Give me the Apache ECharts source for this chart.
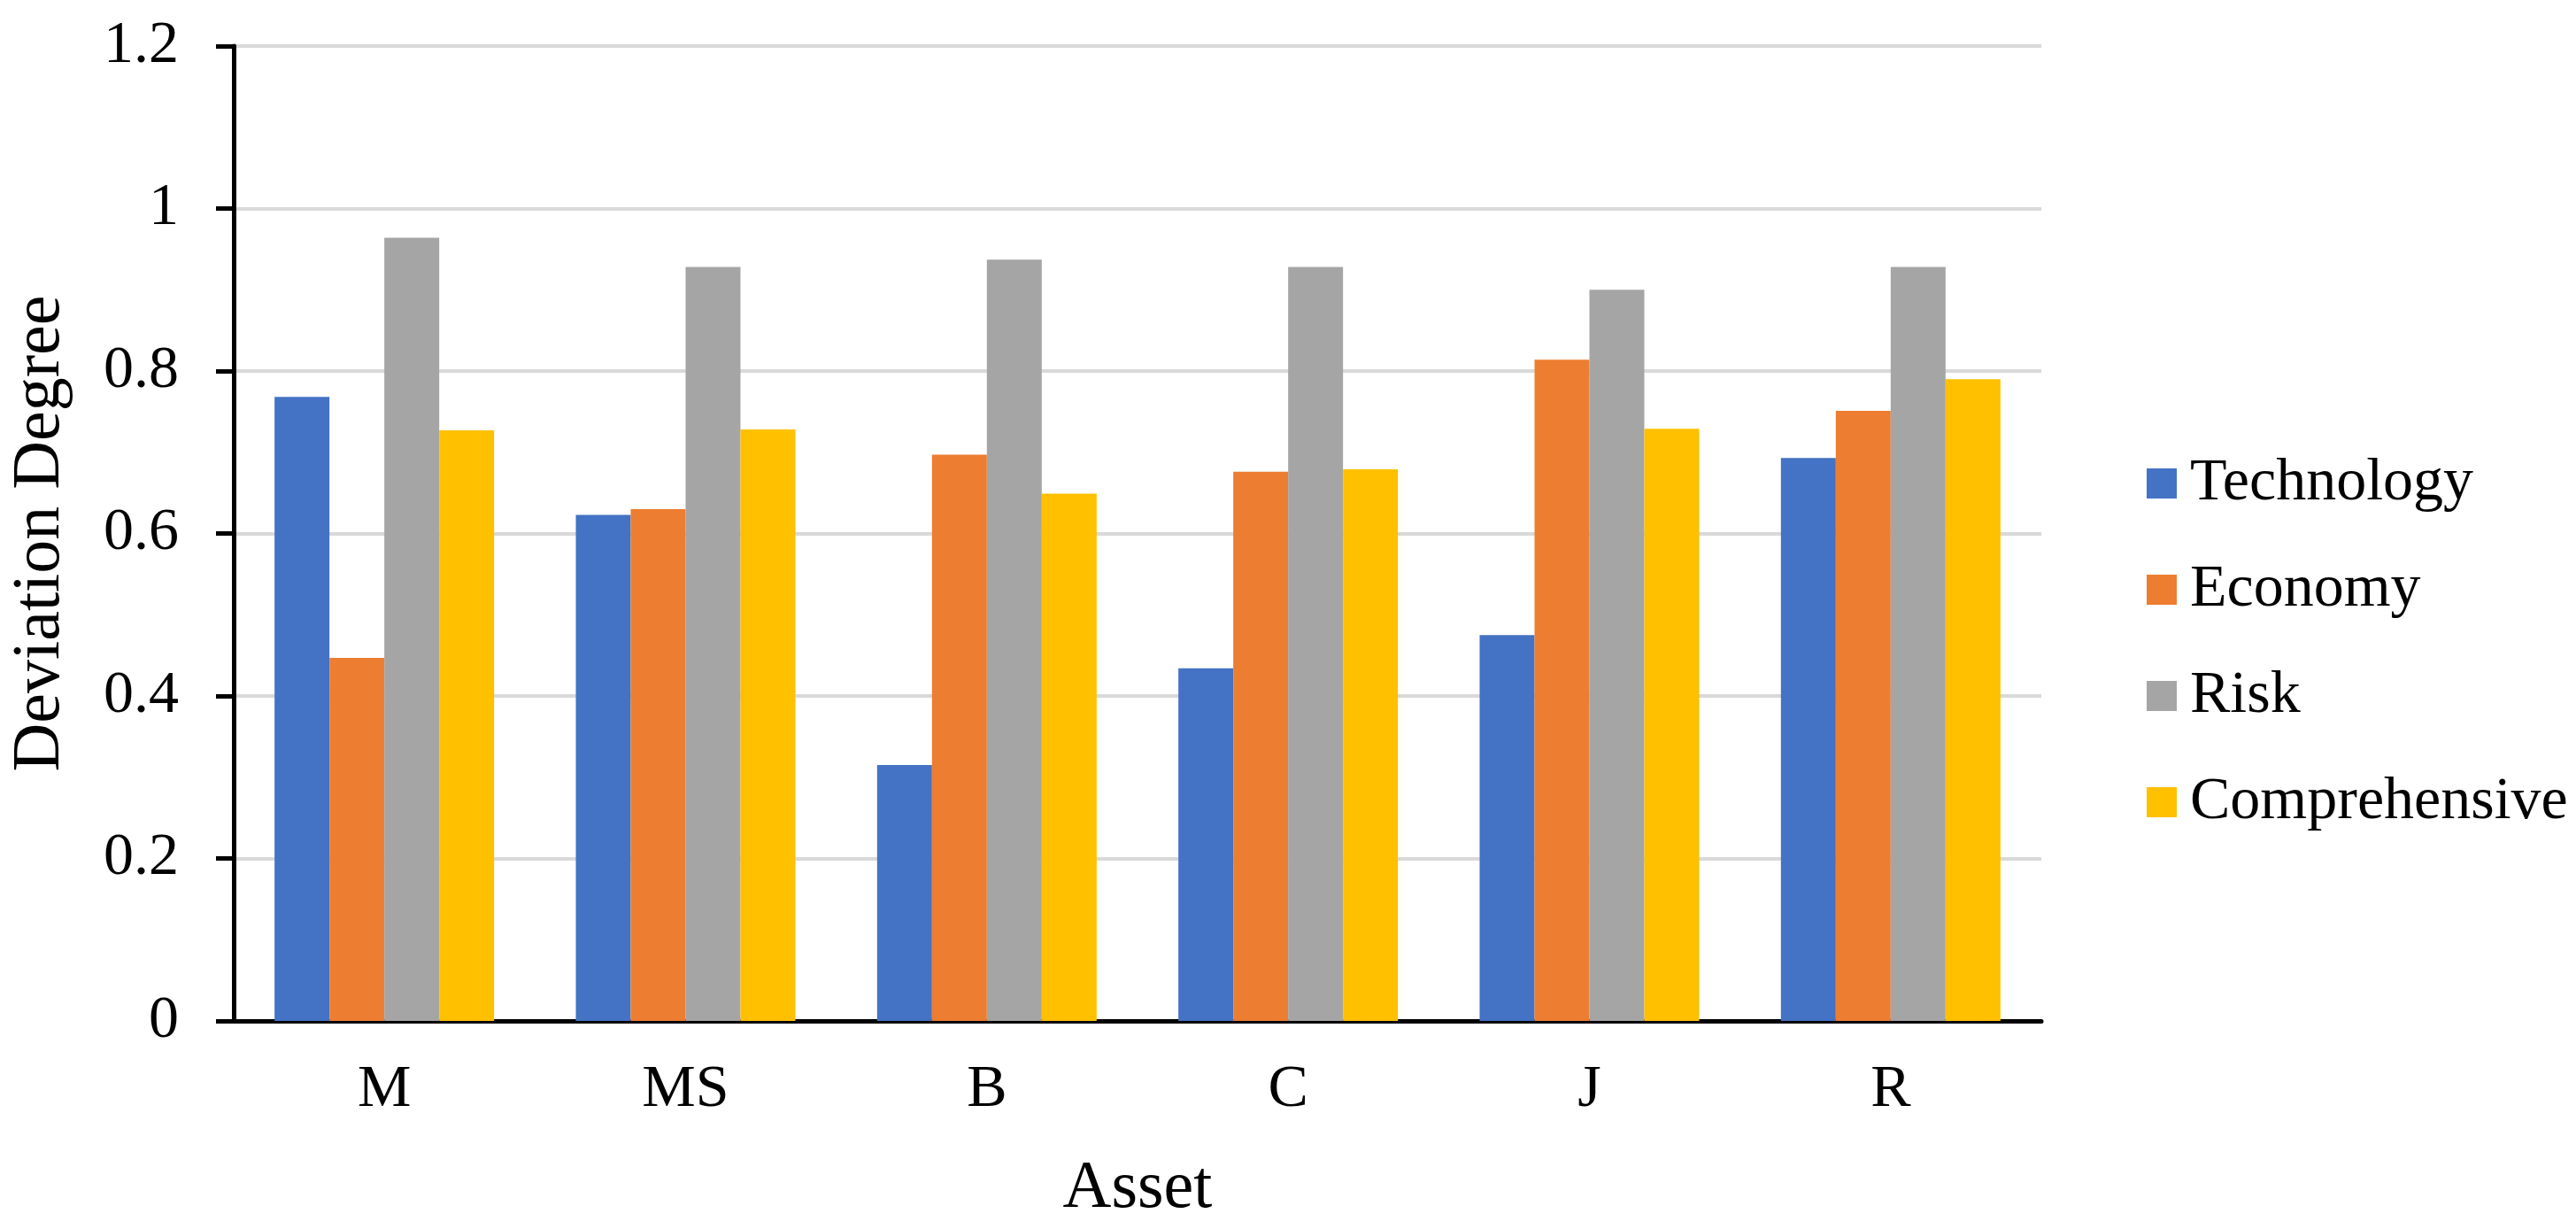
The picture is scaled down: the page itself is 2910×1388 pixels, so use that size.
<!DOCTYPE html>
<html>
<head>
<meta charset="utf-8">
<script src="https://cdn.jsdelivr.net/npm/echarts@6/dist/echarts.min.js"></script>
<style>
html,body{margin:0;padding:0;background:#fff;}
#chart{width:2910px;height:1388px;}
</style>
</head>
<body>
<div id="chart"></div>
<script>
var categories = ['M', 'MS', 'B', 'C', 'J', 'R'];
var technology = [0.768, 0.623, 0.315, 0.434, 0.475, 0.693];
var economy = [0.447, 0.630, 0.697, 0.676, 0.814, 0.751];
var risk = [0.964, 0.928, 0.937, 0.928, 0.900, 0.928];
var comprehensive = [0.727, 0.728, 0.649, 0.679, 0.729, 0.790];
var seriesNames = ['Technology', 'Economy', 'Risk', 'Comprehensive'];
var colors = ['#4472C4', '#ED7D31', '#A5A5A5', '#FFC000'];

var FONT = '"Liberation Serif", "Times New Roman", serif';
var chart = echarts.init(document.getElementById('chart'), null, {renderer: 'canvas'});
var values = [technology, economy, risk, comprehensive];

chart.setOption({
  animation: false,
  backgroundColor: '#ffffff',
  color: colors,
  grid: {left: 251, right: 604, top: 52, bottom: 235, containLabel: false},
  legend: {
    orient: 'vertical',
    left: 2420,
    top: 507,
    itemWidth: 34,
    itemHeight: 34,
    itemGap: 52,
    icon: 'rect',
    data: seriesNames,
    textStyle: {fontFamily: FONT, fontSize: 68, lineHeight: 68, color: '#000', padding: [0, 0, 0, 10]}
  },
  xAxis: {
    type: 'category',
    data: categories,
    name: 'Asset',
    nameLocation: 'middle',
    nameGap: 152,
    nameTextStyle: {fontFamily: FONT, fontSize: 76, color: '#000'},
    axisLine: {show: true, lineStyle: {color: '#000', width: 5}},
    axisTick: {show: false},
    axisLabel: {fontFamily: FONT, fontSize: 68, lineHeight: 68, color: '#000', margin: 44},
    splitLine: {show: false}
  },
  yAxis: {
    type: 'value',
    min: 0,
    max: 1.2,
    interval: 0.2,
    name: 'Deviation Degree',
    nameLocation: 'middle',
    nameGap: 180,
    nameRotate: 90,
    nameTextStyle: {fontFamily: FONT, fontSize: 76, color: '#000'},
    axisLine: {show: true, lineStyle: {color: '#000', width: 5}},
    axisTick: {show: true, inside: false, length: 20, lineStyle: {color: '#000', width: 5}},
    axisLabel: {fontFamily: FONT, fontSize: 68, color: '#000', margin: 62},
    splitLine: {show: true, lineStyle: {color: '#d9d9d9', width: 4}}
  },
  series: seriesNames.map(function (n, i) {
    return {
      name: n,
      type: 'bar',
      data: values[i],
      barWidth: 62,
      barGap: '0%',
      itemStyle: {color: colors[i]}
    };
  })
});
</script>
</body>
</html>
